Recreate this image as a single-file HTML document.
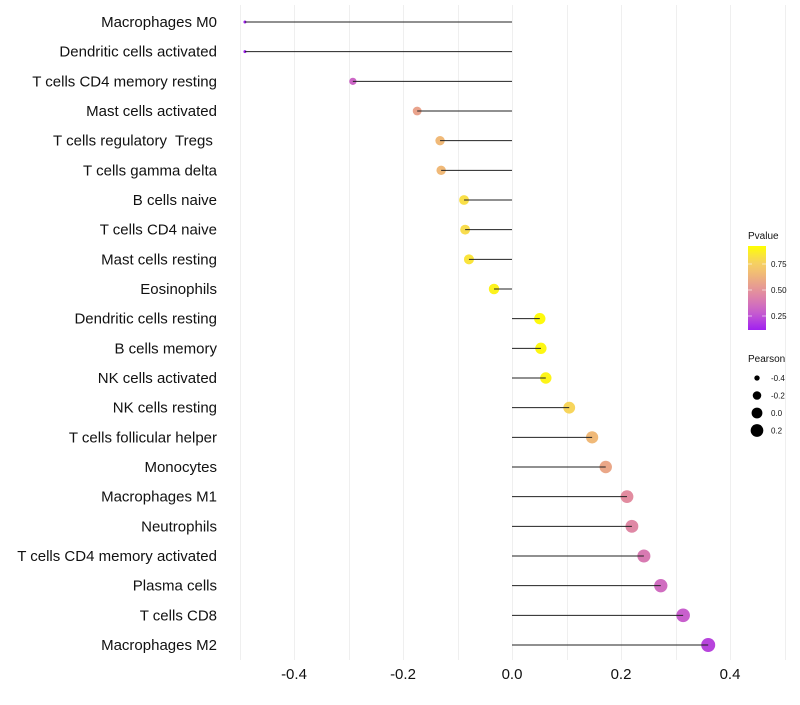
<!DOCTYPE html>
<html><head><meta charset="utf-8"><style>
body{margin:0;background:#fff;font-family:"Liberation Sans",sans-serif}
svg text{font-family:"Liberation Sans",sans-serif;white-space:pre}
</style></head><body>
<svg id="c" width="800" height="700"></svg>
<script>
const categories=["Macrophages M0","Dendritic cells activated","T cells CD4 memory resting","Mast cells activated","T cells regulatory  Tregs ","T cells gamma delta","B cells naive","T cells CD4 naive","Mast cells resting","Eosinophils","Dendritic cells resting","B cells memory","NK cells activated","NK cells resting","T cells follicular helper","Monocytes","Macrophages M1","Neutrophils","T cells CD4 memory activated","Plasma cells","T cells CD8","Macrophages M2"];
const pearson=[-0.49,-0.49,-0.292,-0.174,-0.132,-0.130,-0.088,-0.086,-0.079,-0.033,0.051,0.053,0.062,0.105,0.147,0.172,0.211,0.220,0.242,0.273,0.314,0.360];
const pvalue=[0.1,0.1,0.33,0.6,0.7,0.7,0.88,0.87,0.9,0.95,0.98,0.97,0.96,0.84,0.7,0.62,0.5,0.48,0.42,0.36,0.3,0.22];
const xTicks=[-0.4,-0.2,0.0,0.2,0.4];
const legendP=[0.75,0.50,0.25];
const legendR=[-0.4,-0.2,0.0,0.2];
const NS="http://www.w3.org/2000/svg",svg=document.getElementById('c');
function mk(t,a,p){const e=document.createElementNS(NS,t);for(const k in a)e.setAttribute(k,a[k]);(p||svg).appendChild(e);return e;}
const x=v=>512+v*545, y=i=>22+i*(623/21);
const rmin=-0.49,rmax=0.36;
const rad=v=>Math.sqrt(2.25+46.75*Math.max(0,(v-rmin)/(rmax-rmin)));
const stops=[[0.11,[160,32,240]],[0.3,[200,95,205]],[0.5,[226,140,160]],[0.7,[240,185,120]],[0.85,[247,215,90]],[1.0,[255,255,0]]];
function col(p){p=Math.max(0.11,Math.min(1,p));for(let i=1;i<stops.length;i++){if(p<=stops[i][0]){const a=stops[i-1],b=stops[i],t=(p-a[0])/(b[0]-a[0]);return 'rgb('+a[1].map((c,k)=>Math.round(c+(b[1][k]-c)*t)).join(',')+')';}}return 'rgb(255,255,0)';}
for(let v=-0.5;v<=0.5001;v+=0.1){const xx=Math.round(x(v))+0.5;const g=mk('line',{x1:xx,x2:xx,y1:5,y2:660,stroke:'#efefef','stroke-width':1});

}
xTicks.forEach(v=>{const t=mk('text',{x:x(v),y:679,'text-anchor':'middle','font-size':15,fill:'#111'});t.textContent=v.toFixed(1);

});
categories.forEach((c,i)=>{
const t=mk('text',{x:217,y:y(i)+5,'text-anchor':'end','font-size':15,fill:'#111'});t.textContent=c;


const d=mk('circle',{cx:x(pearson[i]),cy:y(i),r:rad(pearson[i]),fill:col(pvalue[i])});


const l=mk('line',{x1:x(0),x2:x(pearson[i]),y1:y(i),y2:y(i),stroke:'#222','stroke-width':1});


});
const g1=mk('text',{x:748,y:239,'font-size':10,fill:'#111'});g1.textContent='Pvalue';


const defs=mk('defs',{});const lg=mk('linearGradient',{id:'pg',x1:0,y1:1,x2:0,y2:0},defs);
for(let k=0;k<=10;k++){const p=0.11+k*0.089;mk('stop',{offset:k/10,'stop-color':col(p)},lg);}
const bar=mk('rect',{x:748,y:246,width:18,height:84,fill:'url(#pg)'});


legendP.forEach(p=>{const yy=264+(0.75-p)*104;mk('line',{x1:748,x2:752,y1:yy,y2:yy,stroke:'#fff','stroke-width':0.6});mk('line',{x1:762,x2:766,y1:yy,y2:yy,stroke:'#fff','stroke-width':0.6});
const t=mk('text',{x:771,y:yy+3,'font-size':8,fill:'#111'});t.textContent=p.toFixed(2);

});
const g2=mk('text',{x:748,y:362,'font-size':10,fill:'#111'});g2.textContent='Pearson';


legendR.forEach((v,k)=>{const yy=378+k*17.5;const c=mk('circle',{cx:757,cy:yy,r:rad(v),fill:'#000'});


const t=mk('text',{x:771,y:yy+3,'font-size':8,fill:'#111'});t.textContent=v.toFixed(1);

});
</script>
</body></html>
